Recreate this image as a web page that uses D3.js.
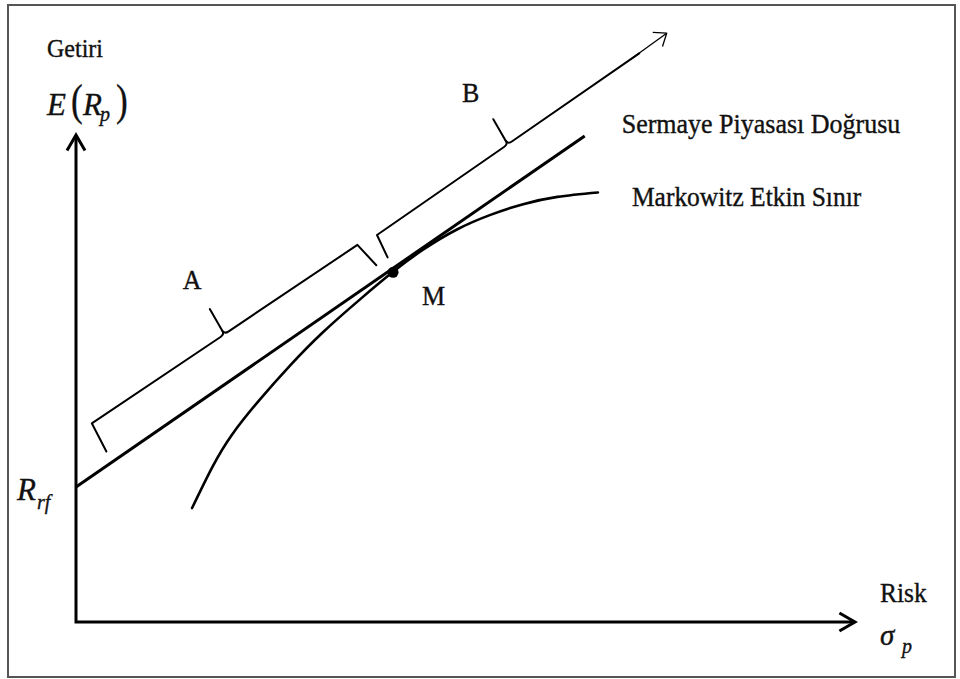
<!DOCTYPE html>
<html>
<head>
<meta charset="utf-8">
<script src="https://cdn.jsdelivr.net/npm/d3@7"></script>
<style>
  html, body { margin: 0; padding: 0; background: #fff; }
  svg { display: block; }
</style>
</head>
<body>
<svg id="chart" width="960" height="679"></svg>
<script>
// Capital market line (Sermaye Piyasası Doğrusu) and the Markowitz efficient frontier.
// Horizontal: risk σp, vertical: expected return E(Rp), both on an abstract 0–100 scale.
const axisMax = [100, 100];
const cmlRisk = [0, 65.3];
const cmlReturn = [27.7, 99.8];
const frontierRisk = [14.9, 17.5, 20.0, 23.4, 27.5, 31.7, 36.5, 40.7, 44.5, 48.9, 53.2, 57.4, 61.8, 67.0];
const frontierReturn = [23.4, 31.8, 38.4, 45.3, 52.7, 59.5, 66.3, 71.9, 76.4, 80.6, 83.6, 85.8, 87.3, 88.2];
const marketPortfolio = [40.7, 71.8];
const braceNames = ["A", "B"];
const braceFromRisk = [5.2, 41.3];
const braceToRisk = [39.0, 75.0];
const cmlArrowRisk = 78.6;
const curveNames = ["Sermaye Piyasası Doğrusu", "Markowitz Etkin Sınır"];
const axisTitles = ["Getiri", "Risk"];

const FONT = "'Liberation Serif', 'Times New Roman', serif";

const svg = d3.select("#chart");
const x = d3.scaleLinear().domain([0, axisMax[0]]).range([76, 855]);
const y = d3.scaleLinear().domain([0, axisMax[1]]).range([622, 135]);

// text helper (slightly tall serif lettering)
function txt(s, px, py, size, opt = {}) {
  return svg.append("text")
    .attr("transform", `translate(${px},${py}) scale(${opt.sx || 1},${opt.sy || 1.08})`)
    .attr("text-anchor", opt.anchor || "start")
    .style("font-family", FONT)
    .style("font-size", size + "px")
    .style("font-style", opt.italic ? "italic" : "normal")
    .attr("fill", "#111")
    .attr("stroke", "#111").attr("stroke-width", 0.35)
    .text(s);
}

// outer frame
svg.append("rect")
  .attr("x", 8).attr("y", 5).attr("width", 947).attr("height", 672)
  .attr("fill", "none").attr("stroke", "#555").attr("stroke-width", 2);

// open arrowhead: tip point, direction angle of the shaft, arm length, half-angle
function arrowHead(g, tip, theta, len, phi) {
  const a1 = [tip[0] - len * Math.cos(theta + phi), tip[1] - len * Math.sin(theta + phi)];
  const a2 = [tip[0] - len * Math.cos(theta - phi), tip[1] - len * Math.sin(theta - phi)];
  return g.append("path").attr("d", `M${a1}L${tip}L${a2}`);
}

// axes
const axes = svg.append("g")
  .attr("fill", "none").attr("stroke", "#000").attr("stroke-width", 3)
  .attr("stroke-linejoin", "miter");
axes.append("path")
  .attr("d", `M${x(0)},${y(axisMax[1]) + 2}V${y(0)}H${x(axisMax[0]) - 2}`);
arrowHead(axes, [x(0), y(axisMax[1])], -Math.PI / 2, 18, Math.PI / 6);
arrowHead(axes, [x(axisMax[0]), y(0)], 0, 18, Math.PI / 6);

// capital market line
const cmlSlope = (cmlReturn[1] - cmlReturn[0]) / (cmlRisk[1] - cmlRisk[0]);
const cmlAt = s => cmlReturn[0] + cmlSlope * (s - cmlRisk[0]);
svg.append("path")
  .datum(d3.zip(cmlRisk, cmlReturn))
  .attr("d", d3.line().x(d => x(d[0])).y(d => y(d[1])))
  .attr("fill", "none").attr("stroke", "#000").attr("stroke-width", 3);

// efficient frontier
svg.append("path")
  .datum(d3.zip(frontierRisk, frontierReturn))
  .attr("d", d3.line().x(d => x(d[0])).y(d => y(d[1])).curve(d3.curveNatural))
  .attr("fill", "none").attr("stroke", "#000").attr("stroke-width", 2.6)
  .attr("stroke-linecap", "round");

// market portfolio M
svg.append("circle")
  .attr("cx", x(marketPortfolio[0])).attr("cy", y(marketPortfolio[1]))
  .attr("r", 5.5).attr("fill", "#000");

// braces drawn parallel to the capital market line
const P0 = [x(cmlRisk[0]), y(cmlAt(cmlRisk[0]))];
const P1 = [x(cmlRisk[1]), y(cmlAt(cmlRisk[1]))];
const L = Math.hypot(P1[0] - P0[0], P1[1] - P0[1]);
const u = [(P1[0] - P0[0]) / L, (P1[1] - P0[1]) / L];
const n = [u[1], -u[0]];                       // normal pointing up-left
const along = s => Math.hypot(x(s) - P0[0], y(cmlAt(s)) - P0[1]);
const pt = (a, p) => [P0[0] + a * u[0] + p * n[0], P0[1] + a * u[1] + p * n[1]];
const f = p => `${p[0].toFixed(1)},${p[1].toFixed(1)}`;

const braceOffsets = [[43.5, 39.5], [36.5, 37.0]];
const labelShift = [4, -2];
const braces = svg.append("g")
  .attr("fill", "none").attr("stroke", "#000").attr("stroke-width", 2)
  .attr("stroke-linejoin", "round").attr("stroke-linecap", "round");

braceNames.forEach((name, i) => {
  const a0 = along(braceFromRisk[i]), a1 = along(braceToRisk[i]);
  const [o0, o1] = braceOffsets[i];
  const mid = (a0 + a1) / 2, om = (o0 + o1) / 2;
  const hasArrow = i === braceNames.length - 1;
  // left arm with end hook, up to the spike
  braces.append("path").attr("d",
    `M${f(pt(a0 - 4, 12))}L${f(pt(a0, o0))}L${f(pt(mid - 5, om))}` +
    `Q${f(pt(mid, om))} ${f(pt(mid, om + 4))}L${f(pt(mid + 2, om + 29))}`);
  // right arm
  const rightEnd = hasArrow ? `M${f(pt(a1, o1))}` : `M${f(pt(a1 + 4, 12))}L${f(pt(a1, o1))}`;
  braces.append("path").attr("d",
    `${rightEnd}L${f(pt(mid + 5, om))}Q${f(pt(mid, om))} ${f(pt(mid, om + 4))}`);
  if (hasArrow) {
    const aTip = along(cmlArrowRisk);
    const tip = pt(aTip, o1 + 1);
    const g = svg.append("g").attr("fill", "none").attr("stroke", "#000")
      .attr("stroke-width", 1.3).attr("stroke-linejoin", "round");
    g.append("path").attr("d", `M${f(pt(a1 - 10, o1))}L${f(tip)}`);
    arrowHead(g, tip, Math.atan2(u[1], u[0]), 14, 0.66);
  }
  // brace letter
  const lp = pt(mid + labelShift[i], om + 63);
  txt(name, lp[0], lp[1] + 9, 26, { anchor: "middle" });
});

// point label
txt("M", x(marketPortfolio[0]) + 29, y(marketPortfolio[1]) + 33, 26);

// curve labels
txt(curveNames[0], x(cmlRisk[1]) + 37, y(cmlReturn[1]) - 3, 26);
const fEnd = frontierRisk.length - 1;
txt(curveNames[1], x(frontierRisk[fEnd]) + 34, y(frontierReturn[fEnd]) + 14, 25.5);

// axis titles
txt(axisTitles[0], 47, 57, 24);
txt(axisTitles[1], 880, 602, 25.5);

// E(Rp)
txt("E", 47, 115, 31, { italic: true, sy: 1 });
txt("(", 71, 115, 44, { sx: 0.8, sy: 1 });
txt("R", 83, 115, 31, { italic: true, sy: 1 });
txt("p", 100, 121, 20, { italic: true, sy: 1 });
txt(")", 116, 115, 44, { sx: 0.8, sy: 1 });

// Rrf
txt("R", 17, 500, 31, { italic: true, sy: 1 });
txt("rf", 37, 509, 20, { italic: true, sy: 1 });

// σp
txt("σ", 880, 645, 29, { italic: true, sy: 1 });
txt("p", 902, 653, 20, { italic: true, sy: 1 });
</script>
</body>
</html>
